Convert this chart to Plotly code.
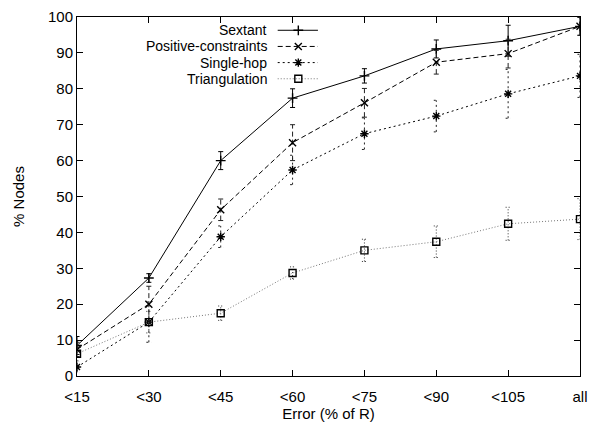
import plotly.graph_objects as go

# Categories (error thresholds as % of radio range R)
categories = ["<15", "<30", "<45", "<60", "<75", "<90", "<105", "all"]

# Percentage of nodes within each error threshold, with error-bar half-widths
sextant = [8.5, 27.3, 60.0, 77.4, 83.6, 91.1, 93.4, 97.4]
sextant_err = [2.5, 1.2, 2.5, 2.6, 2.0, 2.5, 4.3, 2.5]

positive = [7.4, 20.0, 46.3, 65.0, 76.1, 87.4, 89.8, 97.4]
positive_err = [2.0, 5.0, 3.0, 5.0, 4.0, 3.3, 4.0, 2.5]

single_hop = [2.5, 15.0, 38.8, 57.4, 67.5, 72.4, 78.6, 83.6]
single_hop_err = [1.5, 5.6, 3.0, 4.1, 4.4, 4.4, 6.8, 6.0]

triangulation = [6.2, 15.0, 17.5, 28.7, 35.0, 37.4, 42.4, 43.7]
triangulation_err = [2.0, 3.0, 2.0, 1.7, 3.1, 4.4, 4.6, 5.7]

y_ticks = list(range(0, 101, 10))

FONT = "Liberation Sans, Arial, Helvetica, sans-serif"
CAP = 0.035  # half-width of error-bar caps in category units

series = [
    dict(name="Sextant", y=sextant, err=sextant_err, dash="solid",
         line_color="black", err_color="black", symbol="cross-thin-open", size=7),
    dict(name="Positive-constraints", y=positive, err=positive_err, dash="5px,3px",
         line_color="black", err_color="#222222", symbol="x-thin-open", size=7),
    dict(name="Single-hop", y=single_hop, err=single_hop_err, dash="2px,3px",
         line_color="black", err_color="#222222", symbol="asterisk-open", size=7),
    dict(name="Triangulation", y=triangulation, err=triangulation_err, dash="1px,2px",
         line_color="#777777", err_color="#333333", symbol="square-open", size=7),
]

x_pos = list(range(len(categories)))

fig = go.Figure()

for s in series:
    # error bars drawn in the series' own line style
    ex, ey = [], []
    for xi, yi, ei in zip(x_pos, s["y"], s["err"]):
        lo, hi = yi - ei, yi + ei
        ex += [xi, xi, None, xi - CAP, xi + CAP, None, xi - CAP, xi + CAP, None]
        ey += [lo, hi, None, lo, lo, None, hi, hi, None]
    fig.add_trace(go.Scatter(
        x=ex, y=ey, mode="lines", showlegend=False, hoverinfo="skip",
        line=dict(color=s["err_color"], width=1, dash=s["dash"]),
    ))
    fig.add_trace(go.Scatter(
        x=x_pos, y=s["y"], mode="lines+markers", name=s["name"], showlegend=False,
        line=dict(color=s["line_color"], width=1, dash=s["dash"]),
        marker=dict(symbol=s["symbol"], size=s["size"], color="black",
                    line=dict(color="black", width=1.4)),
    ))

# gnuplot-style key: right-aligned labels followed by line samples
key_rows = [0.963, 0.918, 0.873, 0.828]
for s, ky in zip(series, key_rows):
    fig.add_trace(go.Scatter(
        x=[0.399, 0.479], y=[ky, ky], xaxis="x2", yaxis="y2", mode="lines",
        showlegend=False, hoverinfo="skip",
        line=dict(color=s["line_color"], width=1, dash=s["dash"]),
    ))
    fig.add_trace(go.Scatter(
        x=[0.440], y=[ky], xaxis="x2", yaxis="y2", mode="markers",
        showlegend=False, hoverinfo="skip",
        marker=dict(symbol=s["symbol"], size=s["size"], color="black",
                    line=dict(color="black", width=1.4)),
    ))
    fig.add_annotation(
        x=0.382, y=ky, xref="x2", yref="y2", text=s["name"], showarrow=False,
        xanchor="right", yanchor="middle",
        font=dict(family=FONT, size=14, color="black"),
    )

axis_common = dict(
    showgrid=False, zeroline=False, showline=True, linecolor="black", linewidth=1,
    mirror="ticks", ticks="inside", ticklen=6, tickcolor="black", tickwidth=1,
    tickfont=dict(family=FONT, size=15, color="black"),
)

fig.update_layout(
    width=596, height=428,
    margin=dict(l=77, r=8, t=10, b=52),
    paper_bgcolor="white", plot_bgcolor="white",
    showlegend=False,
    font=dict(family=FONT, size=15, color="black"),
    xaxis=dict(
        range=[0, len(categories) - 1], tickmode="array",
        tickvals=x_pos, ticktext=categories, ticklabelstandoff=7,
        title=dict(text="Error (% of R)", font=dict(family=FONT, size=15), standoff=0),
        **axis_common,
    ),
    yaxis=dict(
        range=[0, 100], tickmode="array", tickvals=y_ticks,
        title=dict(text="% Nodes", font=dict(family=FONT, size=15), standoff=19),
        **axis_common,
    ),
    xaxis2=dict(range=[0, 1], overlaying="x", visible=False),
    yaxis2=dict(range=[0, 1], overlaying="y", visible=False),
)

fig.write_html("out.html")
